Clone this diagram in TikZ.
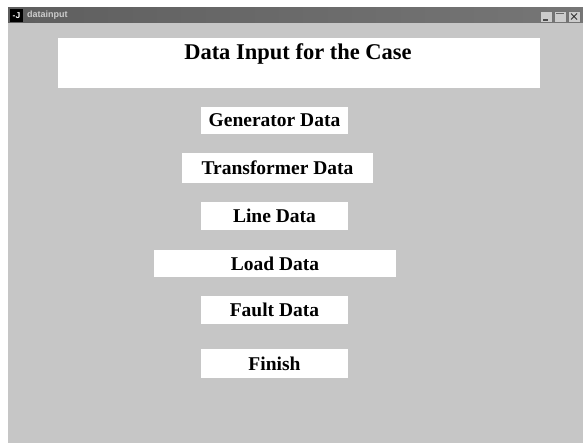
\documentclass[tikz,border=0pt]{standalone}
\usepackage{fontspec}
\setmainfont{Liberation Serif}
\newfontfamily\barfont{Liberation Sans}
\definecolor{winbg}{RGB}{198,198,198}
\definecolor{barbg}{RGB}{118,118,118}
\definecolor{bartext}{RGB}{205,205,205}
\tikzset{
    btn/.style={fill=white, inner sep=0pt, font=\bfseries\fontsize{19.5}{21}\selectfont},
    ctrl/.style={fill=gray!40, draw=gray!90!black, line width=0.8pt}
}
\begin{document}
\begin{tikzpicture}[x=1pt, y=-1pt]
    \useasboundingbox (0,0) rectangle (583,443);
    \fill[white] (0,0) rectangle (583,443);
    % window body and title bar
    \fill[winbg] (8,22) rectangle (583,443);
    \shade[left color=barbg!80!black, right color=barbg] (8,8) rectangle (583,23);
    \fill[black] (10,9) rectangle (23,22);
    \node[text=white, font=\barfont\bfseries\fontsize{8.5}{8.5}\selectfont, inner sep=0pt] (icon) at (16.5,15.5) {-J};
    \node[anchor=west, text=bartext, font=\barfont\bfseries\fontsize{9}{10}\selectfont, inner sep=0pt] (wintitle) at (27,15.5) {datainput};
    % window controls
    \draw[ctrl] (540,11) rectangle (552,22);
    \draw[line width=1.2pt, black!70] (543,20) -- (548,20);
    \draw[ctrl] (554,11) rectangle (566,22);
    \draw[line width=1.2pt, black!60] (556,13.5) -- (564,13.5);
    \draw[ctrl] (568,11) rectangle (580,22);
    \draw[line width=1pt, black!80] (571,13.5) -- (577,19.5) (571,19.5) -- (577,13.5);
    % heading
    \fill[white] (58,38) rectangle (540,88);
    \node[font=\bfseries\fontsize{22.5}{24}\selectfont, inner sep=0pt] (heading) at (298,54) {Data Input for the Case};
    % buttons
    \node[btn, minimum width=147pt, minimum height=27pt] (gen) at (274.5,120.5) {Generator Data};
    \node[btn, minimum width=191pt, minimum height=30pt] (trans) at (277.5,168) {Transformer Data};
    \node[btn, minimum width=147pt, minimum height=28pt] (line) at (274.5,216) {Line Data};
    \node[btn, minimum width=242pt, minimum height=27pt] (load) at (275,263.5) {Load Data};
    \node[btn, minimum width=147pt, minimum height=28pt] (fault) at (274.5,310) {Fault Data};
    \node[btn, minimum width=147pt, minimum height=29pt] (finish) at (274.5,363.5) {Finish};
\end{tikzpicture}
\end{document}
